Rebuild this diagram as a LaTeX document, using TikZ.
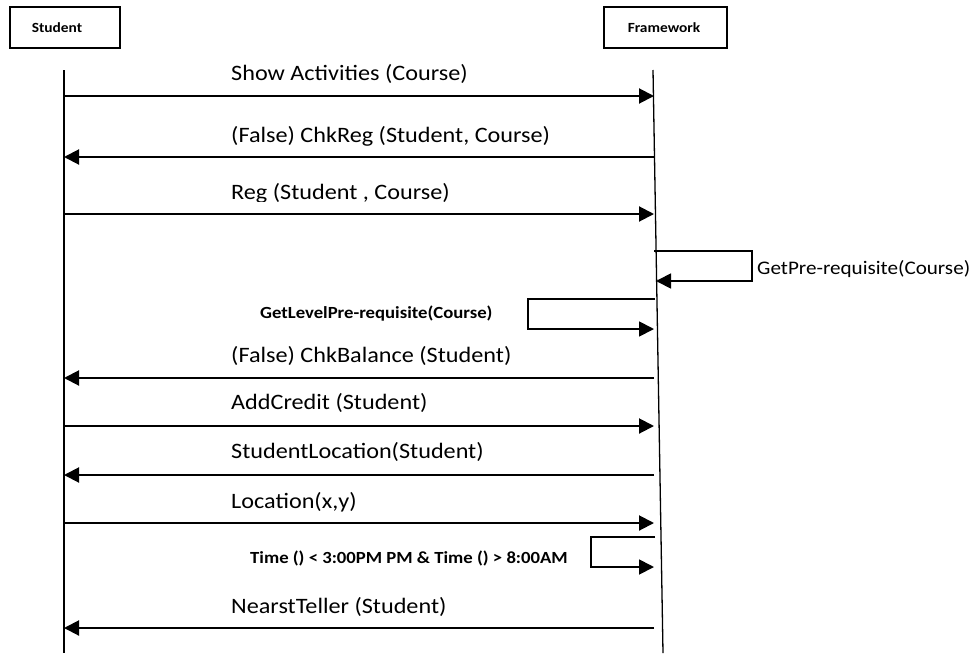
\documentclass[tikz,border=0pt]{standalone}
\usepackage{fontspec}
\setmainfont{Carlito}
\newfontfamily\lblfont{Carlito}[FakeStretch=1.1]
\usetikzlibrary{arrows.meta}
\begin{document}
\begin{tikzpicture}[x=1pt,y=-1pt,
  actor/.style={draw,line width=1.4pt,minimum width=110pt,minimum height=41pt,inner sep=0pt,
    font=\lblfont\fontsize{14}{16}\selectfont\bfseries},
  life/.style={line width=1.3pt},
  msg/.style={line width=2pt,-{Triangle[length=15pt,width=15pt]}},
  self/.style={line width=1.8pt,-{Triangle[length=15pt,width=15pt]}},
  lbl/.style={anchor=base west,inner sep=0pt,font=\lblfont\fontsize{22}{26}\selectfont},
  slbl/.style={anchor=base west,inner sep=0pt,font=\lblfont\fontsize{19.2}{22}\selectfont},
  blbl/.style={anchor=base west,inner sep=0pt,font=\lblfont\fontsize{17}{19}\selectfont\bfseries}]
\useasboundingbox (0,0) rectangle (976,653);

% participants
\node[actor] (student) at (65,27.5) {Student\kern16pt};
\node[actor,minimum width=123pt] (framework) at (665.5,27.5) {Framework\kern3pt};

% lifelines
\coordinate (S0) at (64,70);  \coordinate (S1) at (64,653);
\coordinate (F0) at (653,70); \coordinate (F1) at (663,653);
\draw[life] (S0) -- (S1);
\draw[life] (F0) -- (F1);

% message end points: s* on the Student side, f* on the Framework side
\foreach \n/\y in {a/96,b/157,c/214,d/378,e/426,f/475,g/523,h/628}{
  \coordinate (s\n) at (64,\y);
  \coordinate (f\n) at (654,\y);
}

% messages
\node[lbl] (la) at (231,80) {Show Activities (Course)};
\draw[msg] (sa) -- (fa);
\node[lbl] (lb) at (231,142) {(False) ChkReg (Student, Course)};
\draw[msg] (fb) -- (sb);
\begin{scope}
  \clip (0,150) rectangle (976,201);
  \node[lbl] (lc) at (231,199) {Reg (Student , Course)};
\end{scope}
\draw[msg] (sc) -- (fc);

% self call: GetPre-requisite
\coordinate (p1) at (654,251); \coordinate (p2) at (752,251);
\coordinate (p3) at (752,281); \coordinate (p4) at (656,281);
\draw[self] (p1) -- (p2) -- (p3) -- (p4);
\node[slbl] (lp) at (757,274) {GetPre-requisite(Course)};

% self call: GetLevelPre-requisite
\coordinate (q1) at (655,299); \coordinate (q2) at (528,299);
\coordinate (q3) at (528,329); \coordinate (q4) at (654,329);
\draw[self] (q1) -- (q2) -- (q3) -- (q4);
\node[blbl] (lq) at (260,318) {GetLevelPre-requisite(Course)};

\node[lbl] (ld) at (231,362) {(False) ChkBalance (Student)};
\draw[msg] (fd) -- (sd);
\node[lbl] (le) at (231,409) {AddCredit (Student)};
\draw[msg] (se) -- (fe);
\node[lbl] (lf) at (231,458) {StudentLocation(Student)};
\draw[msg] (ff) -- (sf);
\node[lbl] (lg) at (231,508) {Location(x,y)};
\draw[msg] (sg) -- (fg);

% self call: time window check
\coordinate (t1) at (655,537); \coordinate (t2) at (591,537);
\coordinate (t3) at (591,567); \coordinate (t4) at (654,567);
\draw[self] (t1) -- (t2) -- (t3) -- (t4);
\node[blbl] (lt) at (250,563) {Time () < 3:00PM PM \& Time () > 8:00AM};

\node[lbl] (lh) at (231,613) {NearstTeller (Student)};
\draw[msg] (fh) -- (sh);
\end{tikzpicture}
\end{document}
